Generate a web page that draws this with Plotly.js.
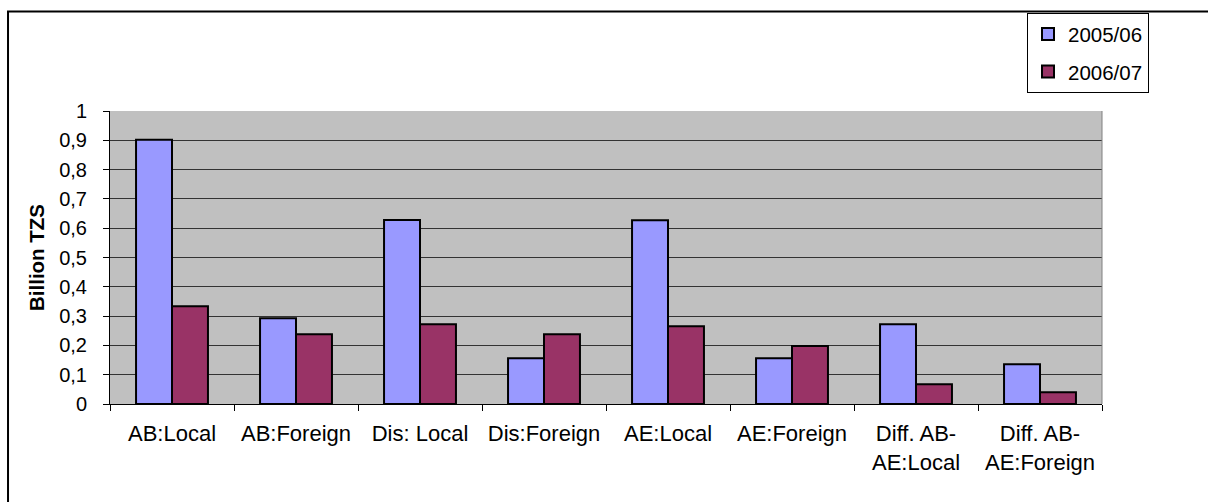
<!DOCTYPE html>
<html>
<head>
<meta charset="utf-8">
<script src="https://cdn.plot.ly/plotly-3.0.1.min.js"></script>
<style>
  html, body { margin: 0; padding: 0; background: #fff; }
  #chart { width: 1208px; height: 502px; }
</style>
</head>
<body>
<div id="chart"></div>
<script>
// Budget categories (bottom axis) and their two-line display labels
const categories = ['AB:Local', 'AB:Foreign', 'Dis: Local', 'Dis:Foreign',
                    'AE:Local', 'AE:Foreign', 'Diff. AB-AE:Local', 'Diff. AB-AE:Foreign'];
const tickLabels = ['AB:Local', 'AB:Foreign', 'Dis: Local', 'Dis:Foreign',
                    'AE:Local', 'AE:Foreign', 'Diff. AB-<br>AE:Local', 'Diff. AB-<br>AE:Foreign'];

// Amounts in billion TZS per financial year
const year1Name = '2005/06';
const year1Values = [0.902, 0.293, 0.628, 0.156, 0.627, 0.156, 0.272, 0.136];
const year2Name = '2006/07';
const year2Values = [0.334, 0.238, 0.272, 0.238, 0.265, 0.198, 0.067, 0.040];

const yTicks = [0, 0.1, 0.2, 0.3, 0.4, 0.5, 0.6, 0.7, 0.8, 0.9, 1];

const fontFamily = 'Arial, "Liberation Sans", sans-serif';

const traces = [
  {
    type: 'bar', name: year1Name, legendgroup: 'y1', x: categories, y: year1Values,
    marker: { color: '#9999FF', line: { color: '#000000', width: 2 } }
  },
  {
    type: 'bar', name: year2Name, legendgroup: 'y2', x: categories, y: year2Values,
    marker: { color: '#993366', line: { color: '#000000', width: 2 } }
  }
];

const layout = {
  width: 1208, height: 502,
  margin: { l: 110, r: 106, t: 111, b: 98 },
  paper_bgcolor: '#ffffff',
  plot_bgcolor: '#C0C0C0',
  separators: ', ',
  barmode: 'group',
  bargap: 0.42,
  bargroupgap: 0,
  font: { family: fontFamily, color: '#000000', size: 20 },
  showlegend: true,
  legend: {
    x: 0.9244, y: 1.334, xanchor: 'left', yanchor: 'top',
    bgcolor: '#ffffff', bordercolor: '#000000', borderwidth: 1,
    font: { family: fontFamily, size: 20.5, color: '#000000' },
    traceorder: 'grouped', tracegroupgap: 8, itemwidth: 30
  },
  xaxis: {
    type: 'category',
    tickmode: 'array', tickvals: categories, ticktext: tickLabels,
    tickson: 'boundaries', ticks: 'outside', ticklen: 6, tickcolor: '#000000',
    ticklabelstandoff: 10,
    showline: true, linecolor: '#000000', linewidth: 1,
    showgrid: false, zeroline: false, fixedrange: true,
    tickfont: { family: fontFamily, size: 22, color: '#000000' },
    automargin: false
  },
  yaxis: {
    range: [0, 1], tickmode: 'array', tickvals: yTicks,
    tickformat: '.1~f',
    ticks: 'outside', ticklen: 6, tickcolor: '#000000',
    ticklabelstandoff: 12,
    showline: true, linecolor: '#000000', linewidth: 1,
    showgrid: true, gridcolor: '#333333', gridwidth: 1,
    zeroline: false, fixedrange: true,
    tickfont: { family: fontFamily, size: 20, color: '#000000' },
    title: { text: 'Billion TZS', font: { family: fontFamily, size: 20.5, color: '#000000', weight: 'bold' }, standoff: 9 },
    automargin: false
  },
  shapes: [
    // outer chart frame
    { type: 'rect', xref: 'paper', yref: 'paper', x0: -0.1028, x1: 1.2, y0: -0.6, y1: 1.3396,
      line: { color: '#000000', width: 2 }, fillcolor: 'rgba(0,0,0,0)', layer: 'below' },
    // right edge of the plot area
    { type: 'line', xref: 'paper', yref: 'paper', x0: 1, x1: 1, y0: 0, y1: 1,
      line: { color: '#808080', width: 1 } }
  ]
};

Plotly.newPlot('chart', traces, layout, { displayModeBar: false, staticPlot: true });
</script>
</body>
</html>
